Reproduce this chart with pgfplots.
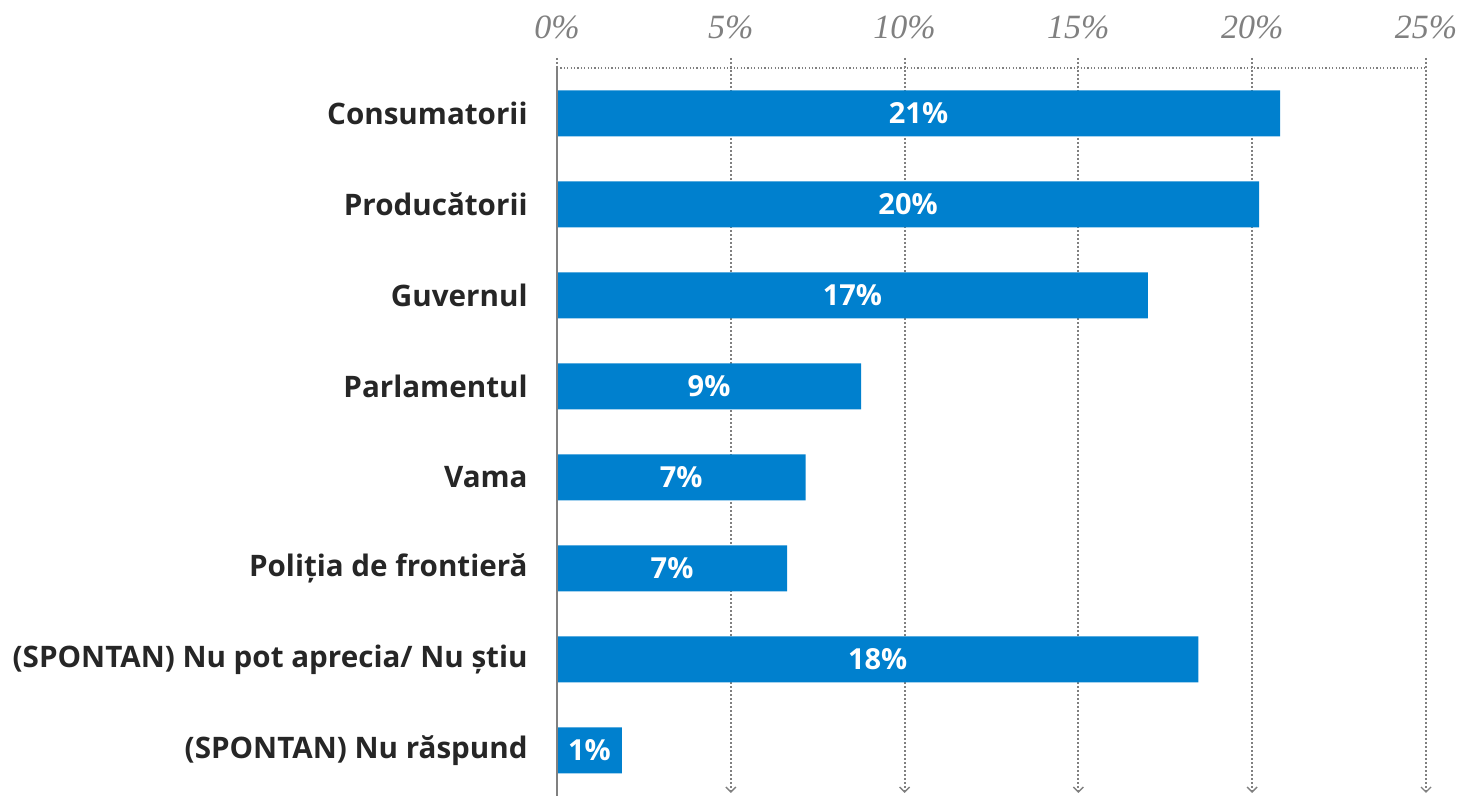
\documentclass[border=0pt]{standalone}
\usepackage{fontspec}
\setmainfont{Open Sans}
\newfontfamily\tickfont{Liberation Serif}
\usepackage{pgfplots}
\pgfplotsset{compat=1.18}
\usetikzlibrary{arrows.meta}
\definecolor{barblue}{RGB}{0,128,206}
\definecolor{txt}{RGB}{38,38,38}
\definecolor{gridgray}{RGB}{128,128,128}
\begin{document}
\begin{tikzpicture}
\begin{axis}[name=ax, scale only axis, width=434.5pt, height=364pt,
  xmin=0, xmax=25, ymin=-0.5, ymax=7.5, y dir=reverse,
  axis line style={draw=none},
  xtick={0,5,10,15,20,25}, xticklabels={0\%,5\%,10\%,15\%,20\%,25\%},
  xticklabel pos=upper,
  x tick label style={font=\tickfont\itshape\fontsize{17}{17}\selectfont, text=gridgray, yshift=11pt},
  major x tick style={draw=none},
  ytick={0,...,7},
  yticklabels={Consumatorii,Producătorii,Guvernul,Parlamentul,Vama,Poliția de frontieră,(SPONTAN) Nu pot aprecia/ Nu știu,(SPONTAN) Nu răspund},
  y tick label style={font=\bfseries\fontsize{14.8}{14.8}\selectfont, text=txt, inner sep=0pt, xshift=-14.5pt},
  major y tick style={draw=none},
  extra y ticks={-0.5,0.5,1.5,2.5,3.5,4.5,5.5,6.5},
  extra y tick labels={},
  extra y tick style={tick align=outside, major tick length=5pt, tick style={draw=gridgray, line width=1pt}},
  clip=false,
]
\pgfplotsinvokeforeach{5,10,15,20,25}{
  \draw[gridgray, line width=1pt, dash pattern=on 1pt off 1pt, -{Straight Barb[length=2.5pt,width=5pt,line width=0.7pt]}]
    ([yshift=5pt]axis cs:#1,-0.5) -- ([yshift=1.5pt]axis cs:#1,7.5);
}
\draw[gridgray, line width=1pt, dash pattern=on 1pt off 1pt] ([yshift=5pt]axis cs:0,-0.5) -- (axis cs:0,-0.5);
\draw[gridgray, line width=0.6pt, dash pattern=on 0.6pt off 1.1pt] (axis cs:0,-0.5) -- (axis cs:25,-0.5);
\addplot[xbar, bar width=23pt, fill=barblue, draw=none,
  point meta=explicit symbolic,
  visualization depends on={x \as \xv},
  nodes near coords,
  nodes near coords style={anchor=center, text=white, font=\bfseries\fontsize{14.5}{14.5}\selectfont, shift={(axis direction cs:-0.5*\xv,0)}},
] coordinates {
  (20.8,0) [21\%]
  (20.2,1) [20\%]
  (17.0,2) [17\%]
  (8.75,3) [9\%]
  (7.15,4) [7\%]
  (6.62,5) [7\%]
  (18.45,6) [18\%]
  (1.87,7) [1\%]
};
\draw[gridgray, line width=1pt] (axis cs:0,-0.5) -- (axis cs:0,7.5);
\end{axis}
\pgfresetboundingbox
\path[use as bounding box] ([xshift=-278.5pt]ax.south west) rectangle ([xshift=17pt, yshift=34pt]ax.north east);
\end{tikzpicture}
\end{document}
